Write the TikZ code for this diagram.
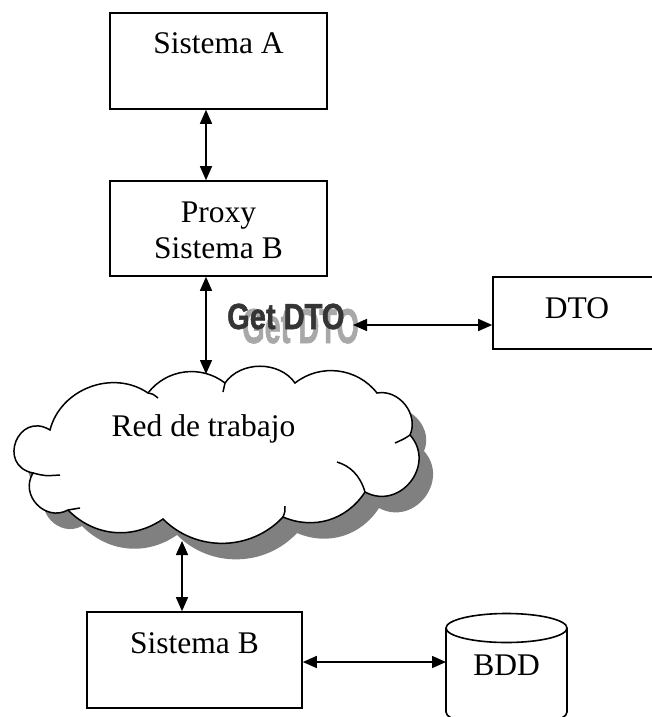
\documentclass[tikz,border=0pt]{standalone}
\usepackage{fontspec}
\setmainfont{Liberation Serif}
\newfontfamily\wafont{Liberation Sans Bold}[FakeBold=1.5]
\usetikzlibrary{arrows.meta}
\definecolor{cloudshadow}{HTML}{808080}
\definecolor{wamain}{HTML}{353535}
\definecolor{washadow}{HTML}{A8A8A8}
\tikzset{cloudpath/.style={insert path={(50,430) to[bend right=100, looseness=2.06] (33,473) to[bend right=75, looseness=1.3] (68,510) to[bend right=40] (163,519) to[bend right=46] (283,517) to[bend right=40] (365,492) to[bend right=80, looseness=1.4] (410,435) to[bend right=62, looseness=1.08] (377,393) to[bend right=45] (295,383) to[bend right=55] (225,383) to[bend right=45] (148,393) to[bend right=55, looseness=1.04] (50,430) -- cycle}}}
\begin{document}
\begin{tikzpicture}[x=1pt,y=-1pt,
  box/.style={draw, line width=1.6pt, fill=white, inner sep=0pt},
  lbl/.style={font=\fontsize{31.5}{36}\selectfont, inner sep=0pt, anchor=base},
  arr/.style={line width=1.5pt, {Triangle[length=14pt,width=12pt]}-{Triangle[length=14pt,width=12pt]}},
  cl/.style={line width=1.5pt}]
\useasboundingbox (0,0) rectangle (652,717);
\clip (0,0) rectangle (652,717);
\fill[white] (0,0) rectangle (652,717);

% boxes
\node[box, minimum width=217pt, minimum height=96pt] (A) at (218.5,61) {};
\node[lbl] (At) at (218.5,54) {Sistema A};
\node[box, minimum width=217pt, minimum height=95pt] (P) at (218.5,228.5) {};
\node[lbl] (Pt1) at (218.5,222) {Proxy};
\node[lbl] (Pt2) at (218.5,258) {Sistema B};
\node[box, minimum width=168pt, minimum height=72pt] (DTO) at (577,313) {};
\node[lbl] (DTOt) at (577,318) {DTO};
\node[box, minimum width=215pt, minimum height=96pt] (SB) at (194.5,660) {};
\node[lbl] (SBt) at (194.5,653) {Sistema B};

% cloud
\fill[cloudshadow, shift={(14,16)}, cloudpath];
\draw[cl, fill=white, cloudpath];
\draw[cl] (33,473) .. controls (45,476) .. (60,475);
\draw[cl] (148,393) .. controls (153,394) .. (158,398);
\draw[cl] (68,510) .. controls (74,509) .. (80,508);
\draw[cl] (283,517) .. controls (285,512) .. (285,506);
\draw[cl] (365,492) .. controls (360,475) and (350,466) .. (337,462);
\draw[cl] (410,435) .. controls (404,439) .. (395,443);
\draw[cl] (225,383) .. controls (224,387) .. (223,392);
\node[lbl] (net) at (203.5,436) {Red de trabajo};

% database
\fill[white] (446,628) -- (446,712) arc[start angle=180, end angle=360, x radius=60.5pt, y radius=14.5pt] -- (567,628) -- cycle;
\draw[line width=1.6pt] (446,628) -- (446,712) arc[start angle=180, end angle=360, x radius=60.5pt, y radius=14.5pt] -- (567,628);
\draw[line width=1.6pt] (506.5,628) ellipse[x radius=60.5pt, y radius=14.5pt];
\node[lbl] (BDD) at (506.5,675) {BDD};

% Get DTO word art (shadow + face in one text)
\node[anchor=base west, inner sep=0pt, text=wamain, font=\wafont\fontsize{36.3}{40}\selectfont] (gd) at (227,329)
  {\makebox[0pt][l]{\hspace{15pt}\raisebox{-14pt}{\color{washadow}\fontsize{49}{50}\selectfont\scalebox{0.59}[1]{Get DTO}}}\scalebox{0.8}[1]{Get DTO}};

% connectors
\coordinate (ctop) at (206,374);
\coordinate (cbot) at (182,541);
\coordinate (gdr) at (353,325);
\coordinate (bddw) at (446,662);
\draw[arr] ([xshift=-12.5pt]A.south) -- ([xshift=-12.5pt]P.north);
\draw[arr] ([xshift=-12.5pt]P.south) -- (ctop);
\draw[arr] (cbot) -- ([xshift=-12.5pt]SB.north);
\draw[arr] (gdr) -- (DTO.west |- gdr);
\draw[arr] (SB.east |- bddw) -- (bddw);
\end{tikzpicture}
\end{document}
